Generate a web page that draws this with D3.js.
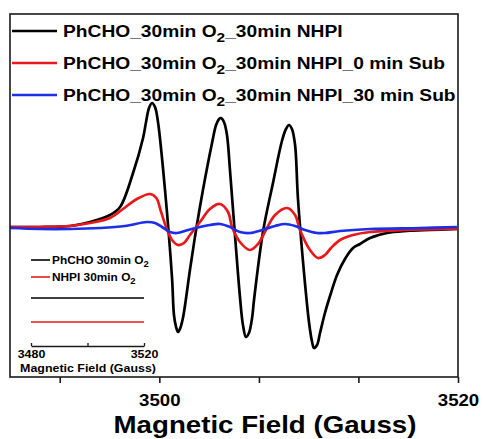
<!DOCTYPE html>
<html>
<head>
<meta charset="utf-8">
<script src="https://cdn.jsdelivr.net/npm/d3@7"></script>
<style>
  body { margin: 0; background: #fff; }
  svg text { font-family: "Liberation Sans", Arial, sans-serif; font-weight: bold; fill: #000; }
</style>
</head>
<body>
<div id="chart"></div>
<script>
// EPR spectra, field in Gauss, intensity in arbitrary units (baseline = 0)
const seriesNames = [
  "PhCHO_30min O₂_30min NHPI",
  "PhCHO_30min O₂_30min NHPI_0 min Sub",
  "PhCHO_30min O₂_30min NHPI_30 min Sub"
];
const seriesColors = ["#000000", "#e8191b", "#1c2ee6"];

const blackData = [
  [3490.00, 1], [3492.01, 1], [3494.02, 2], [3495.36, 6], [3496.70, 13], [3497.37, 21],
  [3498.24, 55], [3498.91, 90], [3499.11, 106], [3499.31, 120], [3499.51, 125], [3499.71, 121],
  [3499.91, 106], [3500.38, 38], [3500.85, -50], [3500.98, -87], [3501.12, -99], [3501.25, -104],
  [3501.38, -101], [3501.58, -90], [3502.05, -42], [3502.46, -2], [3502.92, 38], [3503.53, 85],
  [3503.80, 103], [3504.00, 109], [3504.13, 110], [3504.33, 106], [3504.53, 93], [3504.73, 58],
  [3505.07, -8], [3505.40, -69], [3505.60, -97], [3505.80, -109], [3506.00, -105], [3506.21, -90],
  [3506.34, -72], [3506.94, -4], [3507.61, 45], [3508.21, 87], [3508.48, 99], [3508.68, 103],
  [3508.88, 99], [3509.09, 83], [3509.28, 30], [3509.69, -45], [3510.02, -94], [3510.23, -114],
  [3510.36, -120], [3510.56, -117], [3510.76, -105], [3511.09, -85], [3511.43, -68], [3511.90, -47],
  [3512.43, -31], [3512.97, -20], [3513.44, -16], [3514.11, -10], [3515.25, -5], [3516.59, -3],
  [3518.13, -2], [3519.93, -1]
];

const redData = [
  [3490.00, 1], [3492.01, 1], [3494.02, 2], [3495.36, 5], [3496.70, 10], [3497.57, 19],
  [3498.50, 29], [3499.38, 34], [3499.80, 30], [3500.10, 17], [3500.45, 1], [3500.85, -12],
  [3501.25, -17], [3501.65, -15], [3502.05, -7], [3502.72, 6], [3503.39, 19], [3504.06, 24],
  [3504.60, 16], [3504.87, 1], [3505.40, -14], [3506.07, -22], [3506.61, -16], [3507.14, -2],
  [3507.75, 13], [3508.55, 20], [3509.09, 13], [3509.42, -2], [3510.09, -22], [3510.63, -30],
  [3511.09, -27], [3511.50, -20], [3512.10, -12], [3512.97, -7], [3514.11, -4], [3516.32, -2],
  [3519.93, -1]
];

const blueData = [
  [3490.00, 0], [3492.01, -1], [3494.02, -1], [3496.03, 0], [3497.70, 2], [3499.17, 6],
  [3499.71, 5], [3500.18, 1], [3500.71, -4], [3501.18, -5], [3501.92, -2], [3502.72, 1],
  [3503.39, 3], [3504.06, 4], [3504.73, 1], [3505.40, -4], [3506.07, -5], [3506.88, -2],
  [3507.75, 2], [3508.42, 4], [3509.09, 2], [3509.75, -2], [3510.56, -5], [3511.09, -5],
  [3512.10, -3], [3514.11, -1], [3517.46, 0], [3519.93, 1]
];

const xTickValues = [3493.33, 3500, 3506.67, 3513.33, 3520];
const xTickLabels = [3500, 3520];

// inset: reference spectra (flat, EPR silent), stacked with an offset
const insetNames = ["PhCHO 30min O₂", "NHPI 30min O₂"];
const insetColors = ["#000000", "#e8191b"];
const insetFields = [3480, 3490, 3500, 3510, 3520];
const insetBlackValues = [0, 0, 0, 0, 0];
const insetRedValues = [0, 0, 0, 0, 0];
const insetOffsets = [1, 0];
const insetTickValues = [3480, 3500, 3520];
const insetTickLabels = [3480, 3520];

const W = 483, H = 439;
const margin = { top: 14, right: 25, bottom: 62, left: 10 };
const SX = 1.13; // horizontal stretch of the original lettering

const svg = d3.select("#chart").append("svg")
  .attr("width", W).attr("height", H);

const x = d3.scaleLinear().domain([3490, 3520]).range([margin.left, W - margin.right]);
const y = d3.scaleLinear().domain([-149, 214]).range([H - margin.bottom, margin.top]);

function richText(sel, str, size) {
  const parts = str.split("₂");
  parts.forEach((p, i) => {
    if (i > 0) {
      sel.append("tspan").attr("font-size", size * 0.8).attr("dy", size * 0.32).text("2");
      sel.append("tspan").attr("font-size", size).attr("dy", -size * 0.32).text(p);
    } else {
      sel.append("tspan").text(p);
    }
  });
}

function label(px, py, str, size, anchor) {
  const t = svg.append("text")
    .attr("transform", "translate(" + px + "," + py + ") scale(" + SX + ",1)")
    .attr("text-anchor", anchor || "start")
    .attr("font-size", size);
  richText(t, str, size);
  return t;
}

// curves
const line = d3.line()
  .x(d => x(d[0]))
  .y(d => y(d[1]))
  .curve(d3.curveCatmullRom.alpha(0.5));

[blackData, redData, blueData].forEach((data, i) => {
  svg.append("path")
    .datum(data)
    .attr("fill", "none")
    .attr("stroke", seriesColors[i])
    .attr("stroke-width", 2.7)
    .attr("stroke-linejoin", "round")
    .attr("d", line);
});

// frame
svg.append("rect")
  .attr("x", margin.left).attr("y", margin.top)
  .attr("width", W - margin.left - margin.right)
  .attr("height", H - margin.top - margin.bottom)
  .attr("fill", "none").attr("stroke", "#1a1a1a").attr("stroke-width", 1.6);

// x axis
const xAxis = svg.append("g")
  .attr("transform", "translate(0," + (H - margin.bottom) + ")")
  .call(d3.axisBottom(x).tickValues(xTickValues).tickSize(6).tickSizeOuter(0).tickPadding(11)
    .tickFormat(d => xTickLabels.includes(d) ? d : ""));
xAxis.select(".domain").remove();
xAxis.selectAll(".tick line").attr("stroke", "#1a1a1a").attr("stroke-width", 1.6);
xAxis.selectAll(".tick text")
  .attr("font-size", 16.5)
  .attr("transform", "scale(" + SX + ",1)")
  .attr("dy", "0.71em");

label(265, 433, "Magnetic Field (Gauss)", 24.5, "middle");

// legend
const legendRowY = [31, 63, 95];
seriesNames.forEach((name, i) => {
  svg.append("line")
    .attr("x1", 12).attr("x2", 57)
    .attr("y1", legendRowY[i]).attr("y2", legendRowY[i])
    .attr("stroke", seriesColors[i]).attr("stroke-width", 2.6);
  label(63, legendRowY[i] + 6, name, 17);
});

// inset
const ix = d3.scaleLinear().domain([3480, 3520]).range([31, 144]);
const iy = d3.scaleLinear().domain([0, 1]).range([322, 298]);
const insetLine = d3.line().x(d => ix(d[0])).y(d => iy(d[1]));

[insetBlackValues, insetRedValues].forEach((vals, i) => {
  const pts = insetFields.map((f, j) => [f, vals[j] + insetOffsets[i]]);
  svg.append("path")
    .datum(pts)
    .attr("fill", "none")
    .attr("stroke", insetColors[i])
    .attr("stroke-width", 1.6)
    .attr("d", insetLine);
});

const insetLegendY = [260, 277];
insetNames.forEach((name, i) => {
  svg.append("line")
    .attr("x1", 31).attr("x2", 50)
    .attr("y1", insetLegendY[i]).attr("y2", insetLegendY[i])
    .attr("stroke", insetColors[i]).attr("stroke-width", 1.6);
  label(52, insetLegendY[i] + 4, name, 10.5);
});

const insetAxis = svg.append("g")
  .attr("transform", "translate(0,346)")
  .call(d3.axisBottom(ix).tickValues(insetTickValues).tickSize(-3).tickSizeOuter(0).tickPadding(4)
    .tickFormat(d => insetTickLabels.includes(d) ? d : ""));
insetAxis.select(".domain").attr("stroke", "#1a1a1a").attr("stroke-width", 1.3);
insetAxis.selectAll(".tick line").attr("stroke", "#1a1a1a").attr("stroke-width", 1.3);
insetAxis.selectAll(".tick text")
  .attr("font-size", 11)
  .attr("y", 4)
  .attr("transform", "scale(" + SX + ",1)")
  .attr("dy", "0.71em");

label(88, 372, "Magnetic Field (Gauss)", 11, "middle");
</script>
</body>
</html>
